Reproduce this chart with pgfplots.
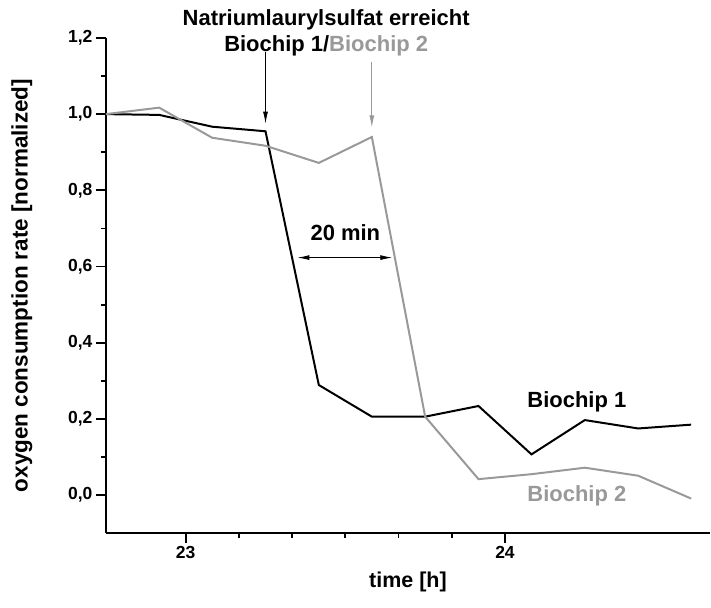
\documentclass[border=0pt]{standalone}
\usepackage{fontspec}
\setmainfont{Liberation Sans}
\usepackage{pgfplots}
\pgfplotsset{compat=1.18}
\usetikzlibrary{arrows.meta}
\definecolor{chipgray}{HTML}{999999}

\begin{document}
\begin{tikzpicture}
\begin{axis}[
  scale only axis,
  width=605pt, height=496pt,
  xmin=22.75, xmax=24.642,
  ymin=-0.1, ymax=1.2,
  axis x line=bottom, axis y line=left,
  axis line style={-, line width=2pt},
  xtick={23,24}, minor x tick num=5,
  ytick={0,0.2,...,1.2}, minor y tick num=1,
  tick align=outside,
  major tick length=10pt, minor tick length=5pt,
  every tick/.style={black, line width=1.8pt},
  /pgf/number format/assume math mode=true,
  yticklabel style={/pgf/number format/.cd, fixed, fixed zerofill, precision=1, use comma},
  tick label style={font=\bfseries\fontsize{17.5}{17.5}\selectfont},
  xlabel={time [h]},
  ylabel={oxygen consumption rate [normalized]},
  xlabel style={font=\bfseries\fontsize{21.5}{21.5}\selectfont, at={(axis description cs:0.5,-0.099)}, anchor=center},
  ylabel style={font=\bfseries\fontsize{22.5}{22.5}\selectfont, at={(axis description cs:-0.139,0.5)}, anchor=center},
  clip=false,
]
% Biochip 1
\addplot[black, line width=2pt] coordinates {
  (22.75,1.0)(22.917,0.998)(23.083,0.967)(23.25,0.955)(23.417,0.289)(23.583,0.206)
  (23.75,0.206)(23.917,0.234)(24.083,0.107)(24.25,0.197)(24.417,0.175)(24.583,0.185)};
% Biochip 2
\addplot[chipgray, line width=2pt] coordinates {
  (22.75,1.0)(22.917,1.017)(23.083,0.938)(23.25,0.917)(23.417,0.872)(23.583,0.94)
  (23.75,0.206)(23.917,0.042)(24.083,0.055)(24.25,0.072)(24.417,0.051)(24.583,-0.009)};

\draw[black, line width=0.9pt, -{Latex[length=12pt,width=5pt]}] (axis cs:23.25,1.163) -- (axis cs:23.25,0.975);
\draw[chipgray, line width=0.9pt, -{Latex[length=12pt,width=5pt]}] (axis cs:23.583,1.137) -- (axis cs:23.583,0.965);
\draw[black, line width=0.9pt, {Latex[length=12pt,width=5pt]}-{Latex[length=12pt,width=5pt]}] (axis cs:23.35,0.6235) -- (axis cs:23.647,0.6235);

\node[font=\bfseries\fontsize{22}{22}\selectfont] at (axis cs:23.5,0.69) {20 min};
\node[font=\bfseries\fontsize{22}{22}\selectfont] at (axis cs:23.44,1.247) {Natriumlaurylsulfat erreicht};
\node[font=\bfseries\fontsize{22}{22}\selectfont] at (axis cs:23.44,1.18) {Biochip 1/\textcolor{chipgray}{Biochip 2}};
\node[font=\bfseries\fontsize{22}{22}\selectfont] at (axis cs:24.225,0.244) {Biochip 1};
\node[font=\bfseries\fontsize{22}{22}\selectfont, text=chipgray] at (axis cs:24.225,-0.003) {Biochip 2};

\coordinate (bl) at (rel axis cs:-0.1752,-0.1492);
\coordinate (tr) at (rel axis cs:1,1.0766);
\end{axis}
\path (bl) rectangle (tr);
\end{tikzpicture}
\end{document}
